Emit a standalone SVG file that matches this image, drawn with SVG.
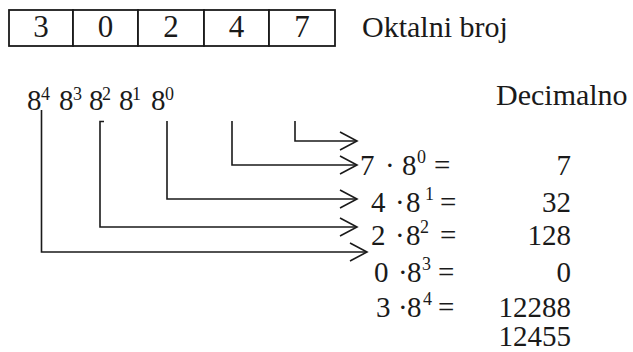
<svg xmlns="http://www.w3.org/2000/svg" width="633" height="352" viewBox="0 0 633 352" font-family="Liberation Serif, Times New Roman, serif">
<style>
text{font-family:Liberation Serif, Times New Roman, serif;fill:#1a1a1a}
.big{font-size:31px}
.t{font-size:30px}
.r{font-size:29px}
.sup{font-size:18px}
.box{fill:#fff;stroke:#1a1a1a;stroke-width:1.8}
.ln{fill:none;stroke:#1a1a1a;stroke-width:1.6}
.end{text-anchor:end}
.mid{text-anchor:middle}
</style>
<defs>
<marker id="ah" viewBox="0 0 20 20" refX="18" refY="10" markerWidth="20" markerHeight="20" markerUnits="userSpaceOnUse" orient="auto">
<path d="M1,1 L18,10 L1,19" fill="none" stroke="#1a1a1a" stroke-width="1.6"/>
</marker>
</defs>
<g id="octal">
<rect class="box" x="9" y="10" width="64" height="36"/>
<rect class="box" x="73" y="10" width="65" height="36"/>
<rect class="box" x="138" y="10" width="66" height="36"/>
<rect class="box" x="204" y="10" width="65" height="36"/>
<rect class="box" x="269" y="10" width="66" height="36"/>
<text class="big mid" x="41" y="37">3</text>
<text class="big mid" x="105.5" y="37">0</text>
<text class="big mid" x="171" y="37">2</text>
<text class="big mid" x="236.5" y="37">4</text>
<text class="big mid" x="302" y="37">7</text>
</g>
<g id="label-oktal"><text class="t" x="362" y="37">Oktalni broj</text></g>
<g id="label-dec"><text class="t" x="496" y="105">Decimalno</text></g>
<g id="powers">
<text class="r" x="27" y="110">8</text><text class="sup" x="41" y="100">4</text>
<text class="r" x="59" y="110">8</text><text class="sup" x="73" y="100">3</text>
<text class="r" x="89" y="110">8</text><text class="sup" x="102" y="100">2</text>
<text class="r" x="119" y="110">8</text><text class="sup" x="132" y="100">1</text>
<text class="r" x="151" y="110">8</text><text class="sup" x="165" y="100">0</text>
</g>
<g id="connectors">
<path class="ln" d="M295,121 V141 H357" marker-end="url(#ah)"/>
<path class="ln" d="M232,121 V165 H357" marker-end="url(#ah)"/>
<path class="ln" d="M167,121 V199 H357" marker-end="url(#ah)"/>
<path class="ln" d="M104,121.5 H100 V227 H357" marker-end="url(#ah)"/>
<path class="ln" d="M41.5,110 V252 H367" marker-end="url(#ah)"/>
</g>
<g id="rows">
<text class="r" y="175"><tspan x="360">7</tspan><tspan x="385">·</tspan><tspan x="402">8</tspan><tspan class="sup" x="417" y="163">0</tspan><tspan x="434" y="175">=</tspan></text>
<text class="r" y="212"><tspan x="371">4</tspan><tspan x="395">·</tspan><tspan x="406">8</tspan><tspan class="sup" x="425" y="200">1</tspan><tspan x="440" y="212">=</tspan></text>
<text class="r" y="245"><tspan x="371">2</tspan><tspan x="395">·</tspan><tspan x="406">8</tspan><tspan class="sup" x="420" y="233">2</tspan><tspan x="440" y="245">=</tspan></text>
<text class="r" y="282"><tspan x="374">0</tspan><tspan x="398">·</tspan><tspan x="407">8</tspan><tspan class="sup" x="422" y="270">3</tspan><tspan x="438" y="282">=</tspan></text>
<text class="r" y="317"><tspan x="376">3</tspan><tspan x="398">·</tspan><tspan x="407">8</tspan><tspan class="sup" x="423" y="305">4</tspan><tspan x="438" y="317">=</tspan></text>
<text class="r end" x="571" y="175">7</text>
<text class="r end" x="571" y="212">32</text>
<text class="r end" x="571" y="245">128</text>
<text class="r end" x="571" y="282">0</text>
<text class="r end" x="571" y="317">12288</text>
<text class="r end" x="571" y="346">12455</text>
</g>
</svg>
